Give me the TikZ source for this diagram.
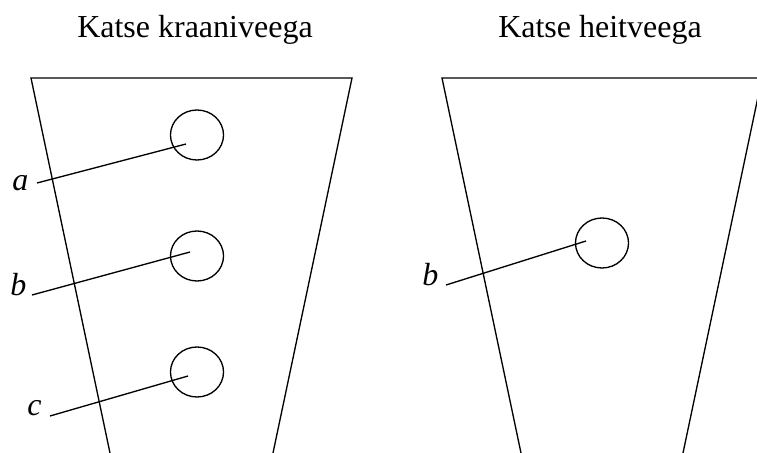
\documentclass[tikz,border=0pt]{standalone}
\usepackage{fontspec}
\setmainfont{Liberation Serif}
\usetikzlibrary{shapes.geometric,positioning}

\begin{document}
\begin{tikzpicture}[
    x=0.75pt, y=-0.75pt,
    font=\fontsize{24}{28}\selectfont,
    title/.style={anchor=base west, inner sep=0pt},
    letter/.style={anchor=base west, inner sep=0pt, font=\fontsize{24}{28}\selectfont\itshape},
    hole/.style={draw, ellipse, minimum width=39.8pt, minimum height=37.5pt, inner sep=0pt, line width=1pt},
    wall/.style={line width=1pt, line join=miter},
    lead/.style={line width=1pt}
]
\useasboundingbox (0,0) rectangle (757,453);

% the two cups
\draw[wall] (110,453) -- (31,78) -- (352,78) -- (273,453);
\draw[wall] (521,453) -- (442,78) -- (762,78) -- (683,453);

\node[title] (t1) at (77,38) {Katse kraaniveega};
\node[title] (t2) at (498,38) {Katse heitveega};

% holes
\foreach \n/\y in {ha/135, hb/256, hc/372}
  \node[hole] (\n) at (197,\y) {};
\node[hole] (hr) at (602,243) {};

% letters
\node[letter] (la) at (12,190) {a};
\node[letter] (lb) at (10,295) {b};
\node[letter] (lc) at (27,415) {c};
\node[letter] (lr) at (422,285) {b};

\coordinate (sa) at (37,183);  \coordinate (ea) at (186,144);
\coordinate (sb) at (32,295);  \coordinate (eb) at (190,252);
\coordinate (sc) at (50,416);  \coordinate (ec) at (188,376);
\coordinate (sr) at (446,285); \coordinate (er) at (586,241);

\foreach \s/\e in {sa/ea, sb/eb, sc/ec, sr/er}
  \draw[lead] (\s) -- (\e);
\end{tikzpicture}
\end{document}
